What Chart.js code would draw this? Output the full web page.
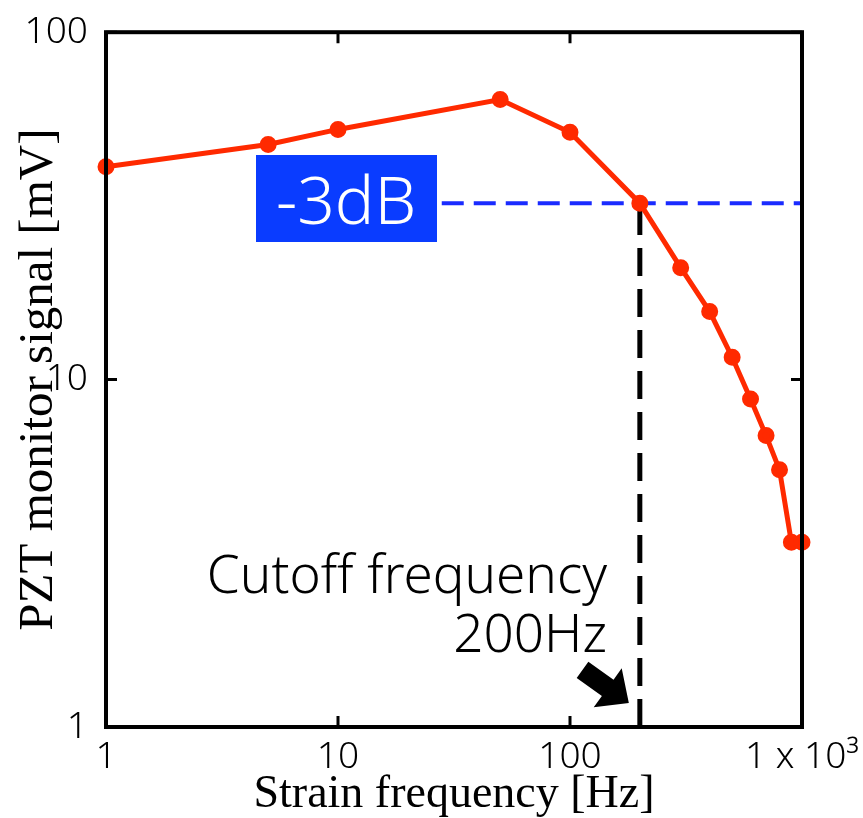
<!DOCTYPE html>
<html>
<head>
<meta charset="utf-8">
<script src="https://cdn.jsdelivr.net/npm/chart.js@4.4.1/dist/chart.umd.min.js"></script>
<style>
  html, body { margin: 0; padding: 0; background: #fff; }
  #wrap { width: 863px; height: 818px; }
</style>
</head>
<body>
<div id="wrap"><canvas id="pztChart"></canvas></div>
<script>
// ===== DATA =====
const freqHz = [1, 5, 10, 50, 100, 200, 300, 400, 500, 600, 700, 800, 900, 1000];
const signalMv = [41, 47.5, 52.5, 64, 51.5, 32.2, 21, 15.7, 11.6, 8.8, 6.9, 5.5, 3.4, 3.4];

const cutoffFreq = 200;
const cutoffLevel = 32.2;
const levelLineStart = 28;

const xTicks = [1, 10, 100, 1000];
const xTickLabels = ["1", "10", "100", "1 x 10\u00B3"];
const yTicks = [1, 10, 100];
const yTickLabels = ["1", "10", "100"];

const sansFont = "'Noto Sans', sans-serif";
const serifFont = "'Liberation Serif', 'Times New Roman', serif";

// ===== FRAME, INWARD TICKS AND NOTES =====
const framePlugin = {
  id: "frame",
  afterDatasetsDraw(chart) {
    const { ctx, chartArea: a, scales: { x, y } } = chart;
    ctx.save();
    ctx.strokeStyle = "#000";
    ctx.lineWidth = 3;
    xTicks.forEach(v => {
      const px = x.getPixelForValue(v);
      ctx.beginPath();
      ctx.moveTo(px, a.bottom); ctx.lineTo(px, a.bottom - 11);
      ctx.moveTo(px, a.top); ctx.lineTo(px, a.top + 11);
      ctx.stroke();
    });
    yTicks.forEach(v => {
      const py = y.getPixelForValue(v);
      ctx.beginPath();
      ctx.moveTo(a.left, py); ctx.lineTo(a.left + 11, py);
      ctx.moveTo(a.right, py); ctx.lineTo(a.right - 11, py);
      ctx.stroke();
    });
    ctx.lineWidth = 4;
    ctx.strokeRect(a.left, a.top, a.right - a.left, a.bottom - a.top);

    // -3dB box
    ctx.fillStyle = "#0a3cff";
    ctx.fillRect(256, 155, 181, 87);
    ctx.fillStyle = "#fff";
    ctx.font = "300 66px " + sansFont;
    ctx.textAlign = "center";
    ctx.textBaseline = "alphabetic";
    ctx.fillText("-3dB", 346, 224);

    // cutoff text
    ctx.fillStyle = "#000";
    ctx.font = "300 53px " + sansFont;
    ctx.textAlign = "right";
    ctx.fillText("Cutoff frequency", 607, 593);
    ctx.fillText("200Hz", 607, 652);

    // arrow
    const tx = x.getPixelForValue(cutoffFreq) - 11;
    const ty = y.getPixelForValue(1) - 24;
    ctx.save();
    ctx.translate(tx, ty);
    ctx.rotate(Math.atan2(33, 46));
    ctx.beginPath();
    ctx.moveTo(0, 0);
    ctx.lineTo(-26, -24);
    ctx.lineTo(-26, -10);
    ctx.lineTo(-57, -10);
    ctx.lineTo(-57, 10);
    ctx.lineTo(-26, 10);
    ctx.lineTo(-26, 24);
    ctx.closePath();
    ctx.fill();
    ctx.restore();
    ctx.restore();
  }
};

new Chart(document.getElementById("pztChart"), {
  type: "line",
  data: {
    datasets: [
      {
        data: freqHz.map((f, i) => ({ x: f, y: signalMv[i] })),
        borderColor: "#ff2a00",
        backgroundColor: "#ff2a00",
        borderWidth: 5,
        pointRadius: 6,
        pointHoverRadius: 6,
        clip: false,
        order: 0
      },
      {
        data: [{ x: levelLineStart, y: cutoffLevel }, { x: 1000, y: cutoffLevel }],
        borderColor: "#1a2bff",
        borderWidth: 4,
        borderDash: [22, 10],
        pointRadius: 0,
        order: 1
      },
      {
        data: [{ x: cutoffFreq, y: 1 }, { x: cutoffFreq, y: cutoffLevel }],
        borderColor: "#000",
        borderWidth: 5,
        borderDash: [28, 13],
        pointRadius: 0,
        order: 1
      }
    ]
  },
  options: {
    responsive: true,
    maintainAspectRatio: false,
    animation: false,
    layout: { padding: { top: 28, right: 61, left: 0, bottom: 0 } },
    plugins: { legend: { display: false }, tooltip: { enabled: false } },
    scales: {
      x: {
        type: "logarithmic",
        min: 1,
        max: 1000,
        afterBuildTicks: s => { s.ticks = xTicks.map(v => ({ value: v })); },
        afterFit: s => { s.height = 91; },
        grid: { display: false },
        border: { display: false },
        ticks: {
          autoSkip: false,
          maxRotation: 0,
          padding: 0,
          color: "#000",
          font: { family: sansFont, size: 37, weight: 300 },
          callback: v => xTickLabels[xTicks.indexOf(v)]
        },
        title: {
          display: true,
          text: "Strain frequency [Hz]",
          color: "#000",
          font: { family: serifFont, size: 46, lineHeight: 1 },
          padding: { top: 0, bottom: 0 }
        }
      },
      y: {
        type: "logarithmic",
        min: 1,
        max: 100,
        afterBuildTicks: s => { s.ticks = yTicks.map(v => ({ value: v })); },
        afterFit: s => { s.width = 106; },
        grid: { display: false },
        border: { display: false },
        ticks: {
          autoSkip: false,
          padding: 10,
          color: "#000",
          font: { family: sansFont, size: 37, weight: 300 },
          callback: v => yTickLabels[yTicks.indexOf(v)]
        },
        title: {
          display: true,
          text: "PZT monitor signal [mV]",
          color: "#000",
          font: { family: serifFont, size: 49, lineHeight: 1 },
          padding: { top: 15, bottom: 0 }
        }
      }
    }
  },
  plugins: [framePlugin]
});
</script>
</body>
</html>
